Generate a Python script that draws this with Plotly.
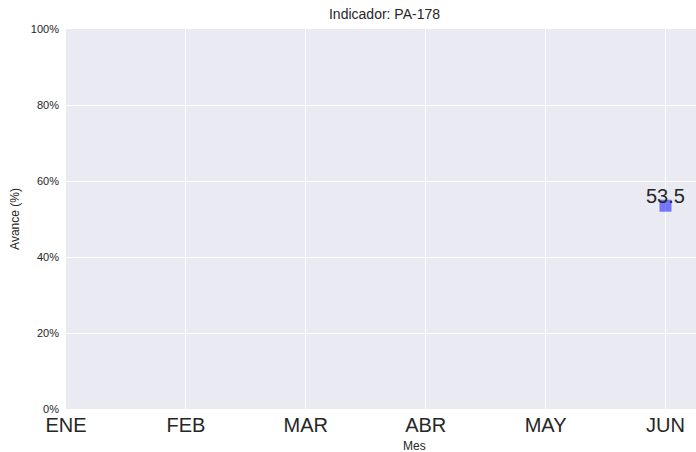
import plotly.graph_objects as go

meses = ["ENE", "FEB", "MAR", "ABR", "MAY", "JUN"]
avance = [None, None, None, None, None, 53.5]
y_ticks = [0, 20, 40, 60, 80, 100]
y_tick_labels = ["0%", "20%", "40%", "60%", "80%", "100%"]
titulo = "Indicador: PA-178"

x_idx = list(range(len(meses)))
FONT = "Arial, Liberation Sans, Helvetica, sans-serif"
TXT = "#262626"

fig = go.Figure()
fig.add_trace(go.Scatter(
    x=x_idx, y=avance, mode="markers",
    marker=dict(symbol="square", size=12, color="rgba(0,0,255,0.5)", line=dict(width=0)),
    showlegend=False, cliponaxis=False,
))

for xi, v in zip(x_idx, avance):
    if v is not None:
        fig.add_annotation(x=xi, y=v, text=f"{v}", showarrow=False,
                           xanchor="center", yanchor="bottom", yshift=-3,
                           font=dict(family=FONT, size=20, color=TXT))

fig.add_annotation(x=385/696, y=0, xref="paper", yref="paper", yanchor="top", xanchor="center",
                   yshift=-28, text="Mes", showarrow=False,
                   font=dict(family=FONT, size=12, color=TXT))

fig.update_layout(
    template="none",
    width=696, height=452,
    margin=dict(l=66, r=0, t=29, b=43, pad=0),
    plot_bgcolor="#EAEAF2", paper_bgcolor="white",
    title=dict(text=titulo, x=384.5/696, xanchor="center", y=1-14/452, yanchor="middle",
               font=dict(family=FONT, size=14, color=TXT)),
    font=dict(family=FONT, color=TXT),
)
fig.update_xaxes(
    range=[0, (696-66)/119.9], tickmode="array", tickvals=x_idx, ticktext=meses,
    tickfont=dict(family=FONT, size=20, color=TXT), color=TXT,
    showgrid=True, gridcolor="white", gridwidth=1,
    zeroline=False, showline=False, ticks="", ticklabelstandoff=2,
)
fig.update_yaxes(
    range=[0, 100], tickmode="array", tickvals=y_ticks, ticktext=y_tick_labels,
    tickfont=dict(family=FONT, size=11, color=TXT), color=TXT,
    showgrid=True, gridcolor="white", gridwidth=1,
    zeroline=False, showline=False, ticks="", ticklabelstandoff=6,
    title=dict(text="Avance (%)", font=dict(family=FONT, size=12, color=TXT), standoff=8),
)

fig.write_html("out.html", config={"displayModeBar": False},
               post_script="document.body.style.margin='0';document.body.style.overflow='hidden';")
